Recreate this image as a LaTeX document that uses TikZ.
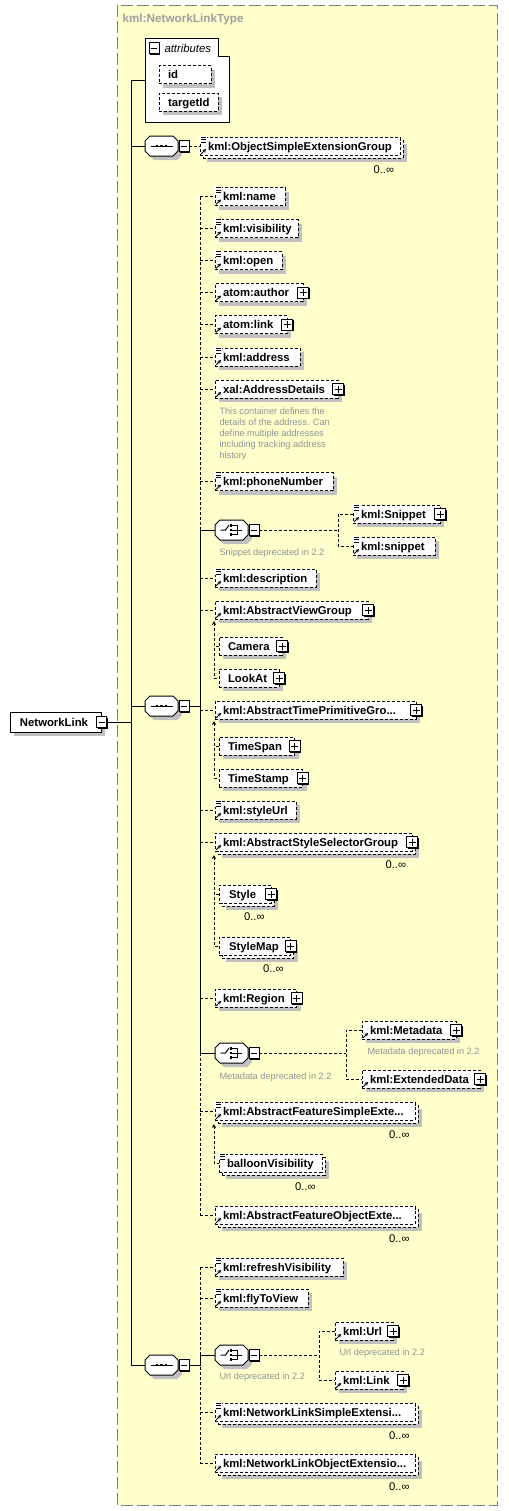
\documentclass[tikz,border=0pt]{standalone}
\usepackage{fontspec}
\setmainfont{Liberation Sans}
\usetikzlibrary{shadows,arrows.meta}
\definecolor{bgyellow}{RGB}{255,255,204}
\definecolor{shgray}{RGB}{192,192,192}
\definecolor{hdrgray}{RGB}{160,160,160}
\definecolor{anngray}{RGB}{140,150,150}
\definecolor{outgray}{RGB}{128,128,128}
\newcommand{\lblfont}{\fontsize{8.5}{10}\selectfont\bfseries}
\newcommand{\hdrfont}{\fontsize{8.8}{10}\selectfont\bfseries}
\newcommand{\annfont}{\fontsize{6.9}{8.25}\selectfont}
\newcommand{\occfont}{\fontsize{8.4}{10}\selectfont}
\tikzset{
  dsh/.style={dash pattern=on 2.25pt off 1.5pt},
  boxbase/.style={anchor=west, fill=white, draw=black, inner sep=0pt, outer sep=0pt,
    minimum height=13.5pt, text height=6pt, text depth=0pt, font=\lblfont},
  elem/.style={boxbase, dsh, general shadow={fill=shgray, shadow xshift=3pt, shadow yshift=-3pt}},
  melem/.style={boxbase, dsh, general shadow={fill=shgray, shadow xshift=5.25pt, shadow yshift=-5.25pt},
     general shadow={fill=white, draw=black, dsh, shadow xshift=2.25pt, shadow yshift=-2.25pt}},
  topel/.style={boxbase, solid, minimum height=15pt, general shadow={fill=shgray, shadow xshift=3pt, shadow yshift=-3pt}},
  sqbase/.style={draw=black, solid, fill=white, inner sep=0pt, outer sep=0pt, line width=0.75pt,
     general shadow={fill=black, shadow xshift=0.9pt, shadow yshift=-0.9pt}},
  plusbox/.style={sqbase, minimum size=8.25pt,
     path picture={\draw[solid,line width=0.75pt] ([xshift=1.5pt]path picture bounding box.west) -- ([xshift=-1.5pt]path picture bounding box.east) ([yshift=-1.5pt]path picture bounding box.north) -- ([yshift=1.5pt]path picture bounding box.south);}},
  minusbox/.style={sqbase, minimum width=7.5pt, minimum height=8.25pt,
     path picture={\draw[solid,line width=0.75pt] ([xshift=1.5pt]path picture bounding box.west) -- ([xshift=-1.5pt]path picture bounding box.east);}},
  occ/.style={anchor=east, inner sep=0pt, font=\occfont, text height=6pt, text depth=0pt},
  ann/.style={inner sep=0pt, font=\annfont, text=anngray, anchor=base west},
}
% element box: [style] name, left x, centre y, right x, text
\newcommand{\el}[6][elem]{%
  \pgfmathsetmacro\elw{(#5-#3)*0.75}%
  \node[#1] (#2) at (#3,#4) {\makebox[\elw pt][l]{\hspace*{6pt}#6}};%
}
\newcommand{\pl}[1]{\node[plusbox] (#1p) at (#1.east) {};}
\newcommand{\simp}[1]{%
  \fill[white] ([xshift=-0.4pt,yshift=0.6pt]#1.north west) rectangle ([xshift=4.9pt,yshift=-4.4pt]#1.north west);
  \draw[solid,line width=0.6pt] ([xshift=0.75pt]#1.north west) -- ++(3.9pt,0)
     ([xshift=0.75pt,yshift=-1.9pt]#1.north west) -- ++(3.9pt,0)
     ([xshift=0.75pt,yshift=-3.8pt]#1.north west) -- ++(3.9pt,0);}
\newcommand{\refar}[1]{\draw[solid, line width=0.75pt, -{Stealth[length=2.6pt,width=2.8pt]}] ([xshift=0.9pt,yshift=0.9pt]#1.south west) -- ++(3.6pt,3.6pt);}
\newcommand{\occl}[3]{\node[occ] (#1o) at (#2,#3) {0..∞};}
\newcommand{\seqicon}[2]{%
  \draw (#1-11,#2) -- (#1+11,#2);
  \fill (#1-5.7,#2-1.3) rectangle (#1-3.1,#2+1.3);
  \fill (#1-1.3,#2-1.3) rectangle (#1+1.3,#2+1.3);
  \fill (#1+3.1,#2-1.3) rectangle (#1+5.7,#2+1.3);}
\newcommand{\choiceicon}[2]{%
  \draw (#1-11,#2) -- (#1-6,#2) -- (#1-2.5,#2-5);
  \fill (#1-1.8,#2-5.8) rectangle (#1+0.6,#2-3.4);
  \fill (#1-1.8,#2-1.2) rectangle (#1+0.6,#2+1.2);
  \fill (#1-1.8,#2+3.4) rectangle (#1+0.6,#2+5.8);
  \draw (#1+0.6,#2-4.6) -- (#1+5.5,#2-4.6) -- (#1+5.5,#2+4.6) -- (#1+0.6,#2+4.6);
  \draw (#1+0.6,#2) -- (#1+10,#2);}
% compositor: name, left x, centre y, icon macro
\newcommand{\comp}[4]{%
  \fill[shgray] (#2+9,#3-6) -- (#2+32,#3-6) -- (#2+37,#3-1) -- (#2+37,#3+9) -- (#2+32,#3+14) -- (#2+9,#3+14) -- (#2+4,#3+9) -- (#2+4,#3-1) -- cycle;
  \filldraw[fill=white, draw=black] (#2+5,#3-10) -- (#2+28,#3-10) -- (#2+33,#3-5) -- (#2+33,#3+5) -- (#2+28,#3+10) -- (#2+5,#3+10) -- (#2,#3+5) -- (#2,#3-5) -- cycle;
  \node[inner sep=0pt, outer sep=0pt, minimum width=24.75pt, minimum height=15pt] (#1) at (#2+16.5,#3) {};
  #4{#2+16.5}{#3}%
  \node[minusbox] (#1m) at (#2+39.25,#3) {};}
\newcommand{\branch}[4]{%
  \coordinate (#1x) at (#4,0);
  \draw[dsh] (#1m.east) -- (#1m.east -| #1x);
  \draw[dsh] (#2.west) -- (#2.west -| #1x) -- (#3.west -| #1x) -- (#3.west);}
\newcommand{\subarrow}[3]{%
  \coordinate (#1a) at ([xshift=-0.75pt,yshift=#3]#1.south west);
  \draw[dsh, {Stealth[length=3pt,width=3pt]}-] (#1a) |- (#2.west);}
\newcommand{\substub}[2]{\draw[dsh] (#1.west) -- (#1.west -| #2a);}

\begin{document}
\begin{tikzpicture}[x=0.75pt,y=-0.75pt,line width=0.75pt]
\useasboundingbox (0,0) rectangle (508,1511);
\fill[white] (0,0) rectangle (508,1511);
\filldraw[fill=bgyellow, draw=outgray, dash pattern=on 9pt off 3pt] (117,5) rectangle (497,1505);
\node[anchor=west, inner sep=0pt, font=\hdrfont, text=hdrgray, text height=6.2pt, text depth=0pt] (hdr) at (122,18.5) {kml:NetworkLinkType};

% attributes
\node[inner sep=0pt, outer sep=0pt, minimum width=63pt, minimum height=63pt] (attr) at (187,80) {};
\filldraw[fill=white, draw=black] (145,38) -- (218,38) -- (218,56) -- (229,56) -- (229,122) -- (145,122) -- cycle;
\node[minusbox, general shadow={fill=none}] (attrm) at (154,48) {};
\node[anchor=west, inner sep=0pt, font=\fontsize{8.5}{10}\selectfont\itshape, text height=6pt, text depth=0pt] (attrl) at (164,48) {attributes};
\el{id}{159}{74.5}{211}{\hspace*{0.75pt}id}
\el{tid}{159}{102}{218}{\hspace*{0.75pt}targetId}

% root element
\el[topel]{NL}{10}{722}{101}{\hspace*{1.5pt}NetworkLink}
\node[minusbox] (NLm) at (101.5,722) {};

% compositors
\comp{seqT}{145}{146}{\seqicon}
\comp{seqM}{145}{706}{\seqicon}
\comp{seqB}{145}{1365}{\seqicon}
\comp{chS}{215}{530}{\choiceicon}
\comp{chM}{215}{1053}{\choiceicon}
\comp{chU}{215}{1355}{\choiceicon}

% top group
\el[melem]{osg}{200}{146}{400}{kml:ObjectSimpleExtensionGroup}\simp{osg}\refar{osg}\occl{osg}{394.5}{169}

% middle sequence
\el{name}{215}{196.5}{285}{kml:name}\simp{name}\refar{name}
\el{visibility}{215}{228.5}{298}{kml:visibility}\simp{visibility}\refar{visibility}
\el{open}{215}{260.5}{282}{kml:open}\simp{open}\refar{open}
\el{author}{215}{292.5}{303}{atom:author}\refar{author}\pl{author}
\el{link}{215}{324.5}{287}{atom:link}\refar{link}\pl{link}
\el{address}{215}{357}{300}{kml:address}\simp{address}\refar{address}
\el{addrdet}{215}{389}{338}{xal:AddressDetails}\refar{addrdet}\pl{addrdet}
\node[ann] (addrnote) at (219,414) {\vtop{\hbox{This container defines the}\hbox{details of the address. Can}\hbox{define multiple addresses}\hbox{including tracking address}\hbox{history}}};
\el{phone}{215}{481.5}{333}{kml:phoneNumber}\simp{phone}\refar{phone}
\el{snipA}{353}{514}{440}{kml:Snippet}\simp{snipA}\refar{snipA}\pl{snipA}
\el{snipB}{353}{546}{435}{kml:snippet}\simp{snipB}\refar{snipB}
\node[ann] (snipnote) at (219,555.5) {Snippet deprecated in 2.2};
\el{descr}{215}{578}{316}{kml:description}\simp{descr}\refar{descr}
\el{avg}{215}{610}{368}{kml:AbstractViewGroup}\refar{avg}\pl{avg}
\el{camera}{219}{646}{282}{\hspace*{0.75pt}Camera}\pl{camera}
\el{lookat}{219}{678}{279}{\hspace*{0.75pt}LookAt}\pl{lookat}
\el{atp}{215}{710}{416}{kml:AbstractTimePrimitiveGro...}\refar{atp}\pl{atp}
\el{timespan}{219}{746}{294.5}{\hspace*{0.75pt}TimeSpan}\pl{timespan}
\el{timestamp}{219}{778}{302.5}{\hspace*{0.75pt}TimeStamp}\pl{timestamp}
\el{styleurl}{215}{810}{296}{kml:styleUrl}\simp{styleurl}\refar{styleurl}
\el[melem]{assg}{215}{842}{412}{kml:AbstractStyleSelectorGroup}\refar{assg}\pl{assg}\occl{assg}{406.5}{864}
\el[melem]{style}{219}{894}{271}{\hspace*{1.5pt}Style}\pl{style}\occl{style}{265}{916}
\el[melem]{stylemap}{219}{946}{290.5}{\hspace*{1.5pt}StyleMap}\pl{stylemap}\occl{stylemap}{284}{968}
\el{region}{215}{998}{296.5}{kml:Region}\refar{region}\pl{region}
\el{meta}{362}{1030}{456}{kml:Metadata}\refar{meta}\pl{meta}
\node[ann] (metanote1) at (367,1054.5) {Metadata deprecated in 2.2};
\el{ext}{362}{1079}{480}{kml:ExtendedData}\refar{ext}\pl{ext}
\node[ann] (metanote2) at (219,1079.5) {Metadata deprecated in 2.2};
\el[melem]{afse}{215}{1111}{415}{kml:AbstractFeatureSimpleExte...}\simp{afse}\refar{afse}\occl{afse}{410}{1134}
\el[melem]{balloon}{219}{1163}{322}{balloonVisibility}\simp{balloon}\occl{balloon}{316}{1186}
\el[melem]{afoe}{215}{1215}{415}{kml:AbstractFeatureObjectExte...}\refar{afoe}\occl{afoe}{410}{1238}

% lower sequence
\el{refresh}{215}{1267}{343}{kml:refreshVisibility}\simp{refresh}\refar{refresh}
\el{fly}{215}{1298}{308}{kml:flyToView}\simp{fly}\refar{fly}
\el{url}{335}{1331}{393}{kml:Url}\refar{url}\pl{url}
\node[ann] (urlnote1) at (339,1355.5) {Url deprecated in 2.2};
\el{link2}{335}{1380}{403}{kml:Link}\refar{link2}\pl{link2}
\node[ann] (urlnote2) at (219,1379.5) {Url deprecated in 2.2};
\el[melem]{nlse}{215}{1412}{415}{kml:NetworkLinkSimpleExtensi...}\simp{nlse}\refar{nlse}\occl{nlse}{410}{1435}
\el[melem]{nloe}{215}{1463}{415}{kml:NetworkLinkObjectExtensio...}\refar{nloe}\occl{nloe}{410}{1486}

% ---- connectors ----
\coordinate (trk) at (131,0);
\coordinate (ivx) at (200,0);
\draw (attr.west -| trk) -- (seqB.west -| trk);
\draw (attr.west -| trk) -- (attr.west);
\draw (seqT.west -| trk) -- (seqT.west);
\draw (seqM.west -| trk) -- (seqM.west);
\draw (seqB.west -| trk) -- (seqB.west);
\draw (NLm.east) -- (NLm.east -| trk);
\draw[dsh] (seqTm.east) -- (osg.west);

\draw (seqMm.east) -- (seqMm.east -| ivx);
\draw[dsh] (name.west -| ivx) -- (chS.west -| ivx);
\draw (chS.west -| ivx) -- (chM.west -| ivx);
\draw[dsh] (chM.west -| ivx) -- (afoe.west -| ivx);
\foreach \nm in {name,visibility,open,author,link,address,addrdet,phone,descr,avg,atp,styleurl,assg,region,afse,afoe}
  \draw[dsh] (\nm.west -| ivx) -- (\nm.west);
\draw (chS.west -| ivx) -- (chS.west);
\draw (chM.west -| ivx) -- (chM.west);

\draw[dsh] (refresh.west -| ivx) -- (nloe.west -| ivx);
\foreach \nm in {refresh,fly,nlse,nloe}
  \draw[dsh] (\nm.west -| ivx) -- (\nm.west);
\draw (seqBm.east) -- (seqBm.east -| ivx) -- (chU.west -| ivx) -- (chU.west);

\branch{chS}{snipA}{snipB}{338}
\branch{chM}{meta}{ext}{346}
\branch{chU}{url}{link2}{319}

\subarrow{avg}{lookat}{-1.5pt}\substub{camera}{avg}
\subarrow{atp}{timestamp}{-1.5pt}\substub{timespan}{atp}
\subarrow{assg}{stylemap}{-3pt}\substub{style}{assg}
\subarrow{afse}{balloon}{-3pt}
\end{tikzpicture}
\end{document}
